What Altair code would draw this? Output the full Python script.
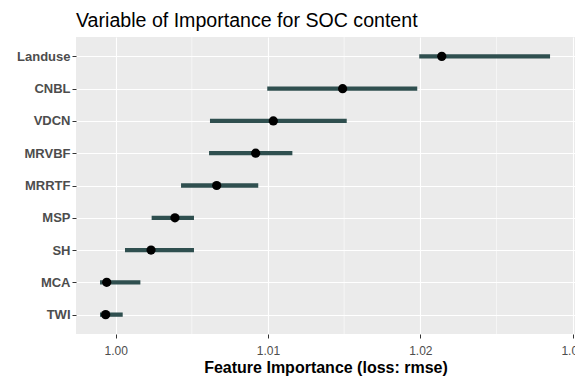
import altair as alt
import pandas as pd

# Permutation feature importance (loss: rmse), with the 5%-95% range and median
features = ["Landuse", "CNBL", "VDCN", "MRVBF", "MRRTF", "MSP", "SH", "MCA", "TWI"]
imp_low = [1.01993, 1.00995, 1.00619, 1.00613, 1.00429, 1.00236, 1.00061, 0.99897, 0.99897]
imp_high = [1.02852, 1.01980, 1.01517, 1.01160, 1.00936, 1.00514, 1.00514, 1.00162, 1.00046]
imp_median = [1.02141, 1.01490, 1.01035, 1.00919, 1.00663, 1.00389, 1.00232, 0.99941, 0.99934]

major_breaks = [1.00, 1.01, 1.02, 1.03]
minor_breaks = [1.005, 1.015, 1.025]

df = pd.DataFrame({
    "feature": features,
    "low": imp_low,
    "high": imp_high,
    "median": imp_median,
})
minor_df = pd.DataFrame({"x": minor_breaks})

FONT = "Liberation Sans"
x_scale = alt.Scale(domain=[0.997393, 1.030158], nice=False, zero=False)
y_scale = alt.Scale(type="point", padding=0.6)

x_axis = alt.Axis(
    values=major_breaks, format=".2f", title="Feature Importance (loss: rmse)",
    grid=True, gridColor="white", gridWidth=1.1,
    domain=False, ticks=True, tickColor="#333333", tickSize=4, tickWidth=1,
    labelFont=FONT, labelFontSize=12, labelColor="#4D4D4D",
    labelBaseline="alphabetic", labelPadding=16,
    titleFont=FONT, titleFontSize=16, titleFontWeight="bold", titleColor="black",
    titleBaseline="alphabetic", titleY=38,
)
y_axis = alt.Axis(
    title=None, grid=True, gridColor="white", gridWidth=1.1,
    domain=False, ticks=True, tickColor="#333333", tickSize=4, tickWidth=1,
    labelFont=FONT, labelFontSize=13, labelFontWeight="bold", labelColor="#4D4D4D",
    labelPadding=2,
)

# thin white lines halfway between the major breaks
minor_grid = alt.Chart(minor_df).mark_rule(color="white", strokeWidth=0.55).encode(
    x=alt.X("x:Q", scale=x_scale, axis=x_axis),
)

ranges = alt.Chart(df).mark_rule(color="#2F4F4F", strokeWidth=4.3).encode(
    x=alt.X("low:Q", scale=x_scale),
    x2="high:Q",
    y=alt.Y("feature:N", sort=features, scale=y_scale, axis=y_axis),
)

medians = alt.Chart(df).mark_circle(color="black", size=85, opacity=1).encode(
    x=alt.X("median:Q", scale=x_scale),
    y=alt.Y("feature:N", sort=features, scale=y_scale),
)

chart = alt.layer(minor_grid, ranges, medians).properties(
    width=499,
    height=297,
    autosize=alt.AutoSizeParams(type="none"),
    padding={"left": 76, "top": 37, "right": 0, "bottom": 47},
    background="white",
    title=alt.TitleParams(
        "Variable of Importance for SOC content",
        anchor="start", frame="group", font=FONT, fontSize=19.6,
        fontWeight="normal", color="black", baseline="alphabetic", offset=10, dy=20,
    ),
).configure_view(fill="#EBEBEB", stroke=None)

chart.save("out.html", embed_options={"renderer": "svg", "actions": False})
